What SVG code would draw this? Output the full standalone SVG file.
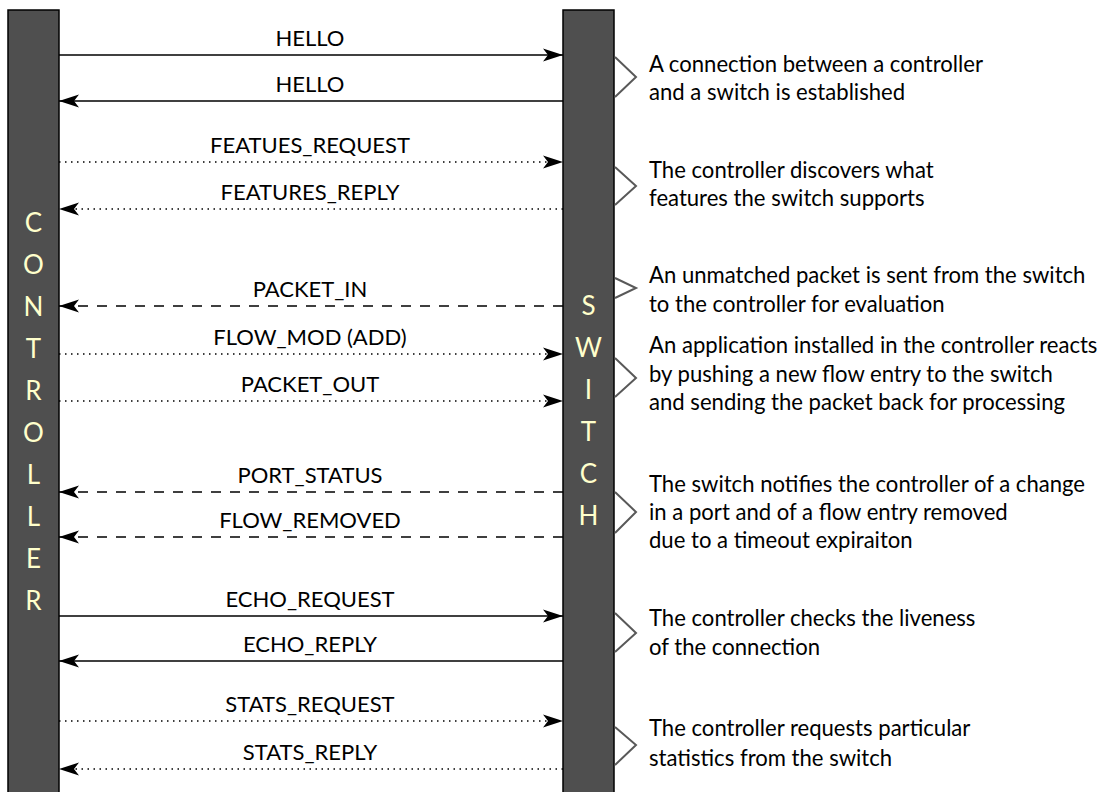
<svg xmlns="http://www.w3.org/2000/svg" width="1106" height="792" viewBox="0 0 1106 792">
  <style>
    .bar { fill: #4f4f4f; stroke: #000; stroke-width: 1.5; }
    .barText { font-family: Lato, "Liberation Sans", sans-serif; font-size: 26px; fill: #ffffcc; text-anchor: middle; }
    .msg { stroke: #000; stroke-width: 1.5; fill: none; }
    .solid { }
    .dotted { stroke-dasharray: 1.5 4.5; }
    .dashed { stroke-dasharray: 10 9; }
    .label { font-family: Lato, "Liberation Sans", sans-serif; font-size: 22px; fill: #000; text-anchor: middle; }
    .note { font-family: Lato, "Liberation Sans", sans-serif; font-size: 22.1px; fill: #000; }
    .chev { fill: none; stroke: #595959; stroke-width: 2; }
  </style>
  <defs>
    <marker id="arrow" viewBox="0 0 20 14" refX="20" refY="7" markerWidth="20" markerHeight="14" markerUnits="userSpaceOnUse" orient="auto">
      <path d="M20,7 L0,0.5 L5,7 L0,13.5 Z" fill="#000"/>
    </marker>
  </defs>
  <rect width="1106" height="792" fill="#fff"/>

  <!-- Controller lifeline -->
  <g id="controller">
    <rect class="bar" x="8" y="10" width="51" height="800"/>
    <text class="barText" x="33.5" y="232">C</text>
    <text class="barText" x="33.5" y="274">O</text>
    <text class="barText" x="33.5" y="316">N</text>
    <text class="barText" x="33.5" y="358">T</text>
    <text class="barText" x="33.5" y="400">R</text>
    <text class="barText" x="33.5" y="442">O</text>
    <text class="barText" x="33.5" y="484">L</text>
    <text class="barText" x="33.5" y="526">L</text>
    <text class="barText" x="33.5" y="568">E</text>
    <text class="barText" x="33.5" y="610">R</text>
  </g>

  <!-- Switch lifeline -->
  <g id="switch">
    <rect class="bar" x="563" y="10" width="51" height="800"/>
    <text class="barText" x="588.5" y="315">S</text>
    <text class="barText" x="588.5" y="357">W</text>
    <text class="barText" x="588.5" y="399">I</text>
    <text class="barText" x="588.5" y="441">T</text>
    <text class="barText" x="588.5" y="483">C</text>
    <text class="barText" x="588.5" y="525">H</text>
  </g>

  <!-- Messages -->
  <g id="connectors">
    <line class="msg solid" x1="59" y1="55" x2="563" y2="55" marker-end="url(#arrow)"/>
    <line class="msg solid" x1="563" y1="101" x2="59" y2="101" marker-end="url(#arrow)"/>
    <line class="msg dotted" x1="59" y1="162" x2="563" y2="162" marker-end="url(#arrow)"/>
    <line class="msg dotted" x1="563" y1="209" x2="59" y2="209" marker-end="url(#arrow)"/>
    <line class="msg dashed" x1="563" y1="306" x2="59" y2="306" marker-end="url(#arrow)"/>
    <line class="msg dotted" x1="59" y1="354" x2="563" y2="354" marker-end="url(#arrow)"/>
    <line class="msg dotted" x1="59" y1="401" x2="563" y2="401" marker-end="url(#arrow)"/>
    <line class="msg dashed" x1="563" y1="492" x2="59" y2="492" marker-end="url(#arrow)"/>
    <line class="msg dashed" x1="563" y1="537" x2="59" y2="537" marker-end="url(#arrow)"/>
    <line class="msg solid" x1="59" y1="616" x2="563" y2="616" marker-end="url(#arrow)"/>
    <line class="msg solid" x1="563" y1="661" x2="59" y2="661" marker-end="url(#arrow)"/>
    <line class="msg dotted" x1="59" y1="721" x2="563" y2="721" marker-end="url(#arrow)"/>
    <line class="msg dotted" x1="563" y1="769" x2="59" y2="769" marker-end="url(#arrow)"/>
  </g>

  <!-- Message labels -->
  <g id="labels">
    <text class="label" x="310" y="46">HELLO</text>
    <text class="label" x="310" y="92">HELLO</text>
    <text class="label" x="310" y="153">FEATUES_REQUEST</text>
    <text class="label" x="310" y="200">FEATURES_REPLY</text>
    <text class="label" x="310" y="297">PACKET_IN</text>
    <text class="label" x="310" y="345">FLOW_MOD (ADD)</text>
    <text class="label" x="310" y="392">PACKET_OUT</text>
    <text class="label" x="310" y="483">PORT_STATUS</text>
    <text class="label" x="310" y="528">FLOW_REMOVED</text>
    <text class="label" x="310" y="607">ECHO_REQUEST</text>
    <text class="label" x="310" y="652">ECHO_REPLY</text>
    <text class="label" x="310" y="712">STATS_REQUEST</text>
    <text class="label" x="310" y="760">STATS_REPLY</text>
  </g>

  <!-- Phase annotations -->
  <g id="note-connect">
    <polyline class="chev" points="615,57 636,77 615,97"/>
    <text class="note" x="649" y="72">A connection between a controller</text>
    <text class="note" x="649" y="100">and a switch is established</text>
  </g>
  <g id="note-features">
    <polyline class="chev" points="615,167 636,186 615,205"/>
    <text class="note" x="649" y="178">The controller discovers what</text>
    <text class="note" x="649" y="206">features the switch supports</text>
  </g>
  <g id="note-packet-in">
    <polyline class="chev" points="615,278 636,288 615,298"/>
    <text class="note" x="649" y="283">An unmatched packet is sent from the switch</text>
    <text class="note" x="649" y="312">to the controller for evaluation</text>
  </g>
  <g id="note-flow-mod">
    <polyline class="chev" points="615,358 636,378 615,397"/>
    <text class="note" x="649" y="353">An application installed in the controller reacts</text>
    <text class="note" x="649" y="382">by pushing a new flow entry to the switch</text>
    <text class="note" x="649" y="410">and sending the packet back for processing</text>
  </g>
  <g id="note-port-status">
    <polyline class="chev" points="615,492 636,512 615,533"/>
    <text class="note" x="649" y="492">The switch notifies the controller of a change</text>
    <text class="note" x="649" y="520">in a port and of a flow entry removed</text>
    <text class="note" x="649" y="548">due to a timeout expiraiton</text>
  </g>
  <g id="note-echo">
    <polyline class="chev" points="615,613 636,633 615,652"/>
    <text class="note" x="649" y="626">The controller checks the liveness</text>
    <text class="note" x="649" y="655">of the connection</text>
  </g>
  <g id="note-stats">
    <polyline class="chev" points="615,727 636,745 615,765"/>
    <text class="note" x="649" y="736">The controller requests particular</text>
    <text class="note" x="649" y="766">statistics from the switch</text>
  </g>
</svg>
